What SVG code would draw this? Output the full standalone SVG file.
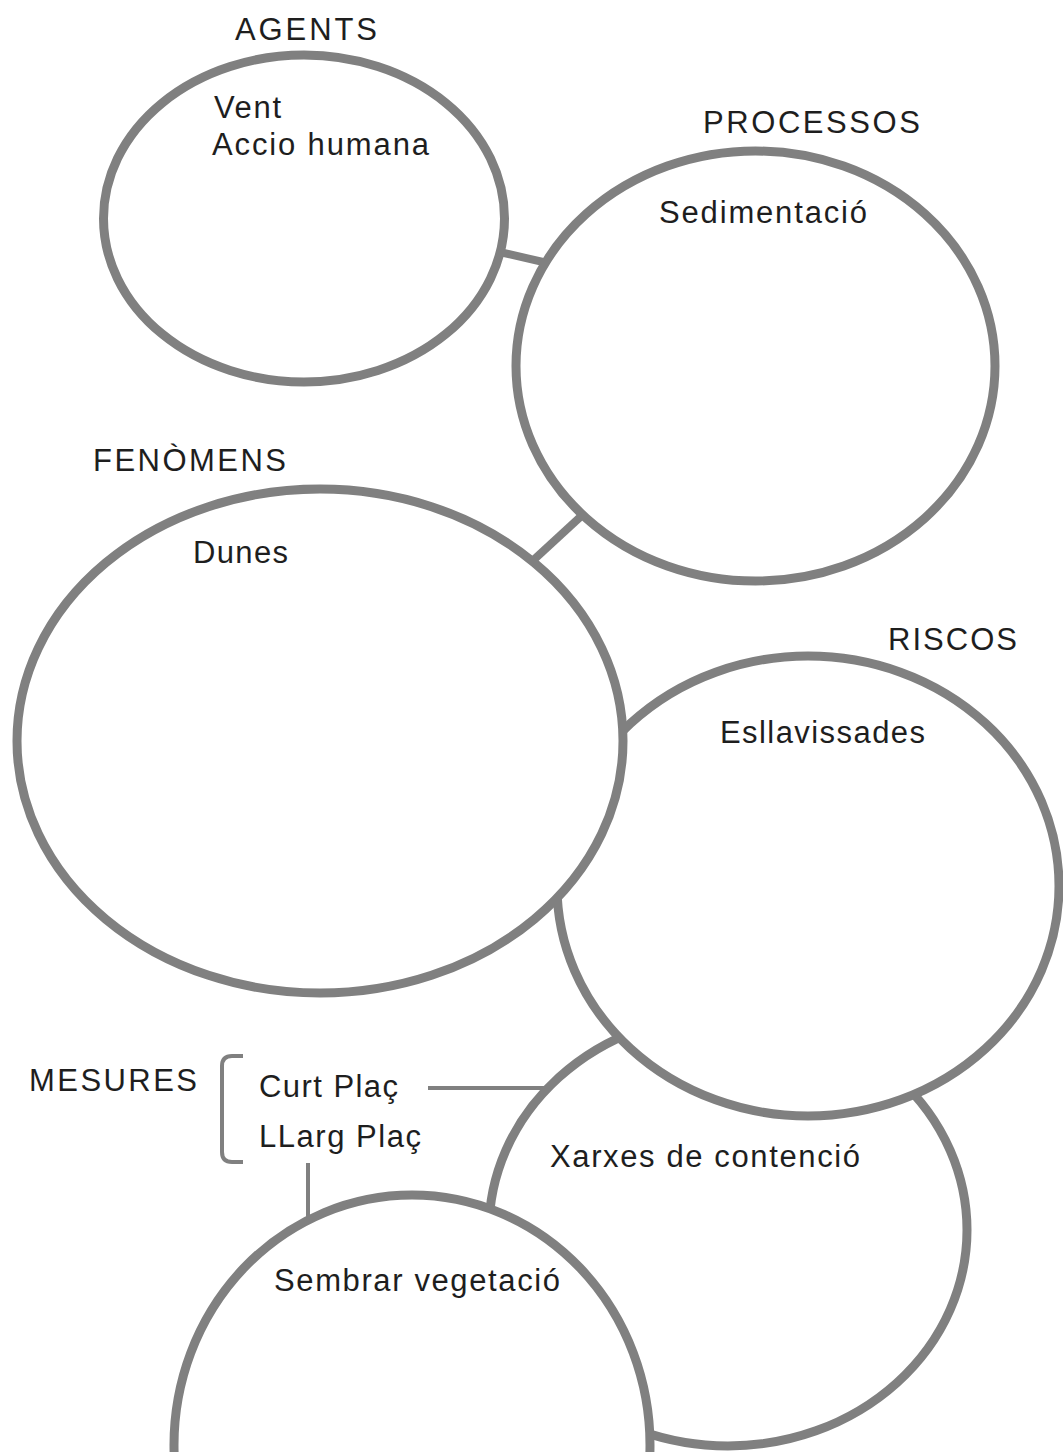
<svg xmlns="http://www.w3.org/2000/svg" width="1063" height="1452" viewBox="0 0 1063 1452">
<style>
.node{fill:#ffffff;stroke:#808080;stroke-width:9}
.link{stroke:#808080;stroke-width:8;fill:none}
.thin{stroke:#808080;stroke-width:4;fill:none}
text{font-family:"Liberation Sans",Arial,sans-serif;font-size:31px;fill:#1e1e1e}
</style>
<rect width="1063" height="1452" fill="#ffffff"/>
<g id="connectors">
<line class="link" x1="495" y1="251" x2="552" y2="264"/>
<line class="link" x1="590" y1="508" x2="527" y2="566"/>
<line class="thin" x1="428" y1="1088" x2="552" y2="1088"/>
<line class="thin" x1="308" y1="1163" x2="308" y2="1228"/>
<path class="thin" d="M243,1056 H232 Q222,1056 222,1066 V1152 Q222,1162 232,1162 H243"/>
</g>
<g id="xarxes">
<ellipse class="node" cx="728" cy="1230" rx="239" ry="216"/>
<text x="550" y="1167" textLength="310" lengthAdjust="spacing">Xarxes de contenció</text>
</g>
<g id="riscos">
<ellipse class="node" cx="808" cy="886" rx="251" ry="230"/>
<text x="888" y="650" textLength="129" lengthAdjust="spacing">RISCOS</text>
<text x="720" y="743" textLength="205" lengthAdjust="spacing">Esllavissades</text>
</g>
<g id="fenomens">
<ellipse class="node" cx="320" cy="741" rx="303" ry="252"/>
<text x="93" y="471" textLength="193" lengthAdjust="spacing">FENÒMENS</text>
<text x="193" y="563" textLength="95" lengthAdjust="spacing">Dunes</text>
</g>
<g id="sembrar">
<ellipse class="node" cx="412" cy="1445" rx="238" ry="250"/>
<text x="274" y="1291" textLength="286" lengthAdjust="spacing">Sembrar vegetació</text>
</g>
<g id="agents">
<ellipse class="node" cx="304" cy="218.5" rx="200.5" ry="163.5"/>
<text x="235" y="40" textLength="142" lengthAdjust="spacing">AGENTS</text>
<text x="214" y="118" textLength="67" lengthAdjust="spacing">Vent</text>
<text x="212" y="155" textLength="217" lengthAdjust="spacing">Accio humana</text>
</g>
<g id="processos">
<ellipse class="node" cx="755.5" cy="366" rx="239.5" ry="215"/>
<text x="703" y="133" textLength="217" lengthAdjust="spacing">PROCESSOS</text>
<text x="659" y="223" textLength="208" lengthAdjust="spacing">Sedimentació</text>
</g>
<g id="mesures">
<text x="29" y="1091" textLength="168" lengthAdjust="spacing">MESURES</text>
<text x="259" y="1097" textLength="139" lengthAdjust="spacing">Curt Plaç</text>
<text x="259" y="1147" textLength="162" lengthAdjust="spacing">LLarg Plaç</text>
</g>
</svg>
